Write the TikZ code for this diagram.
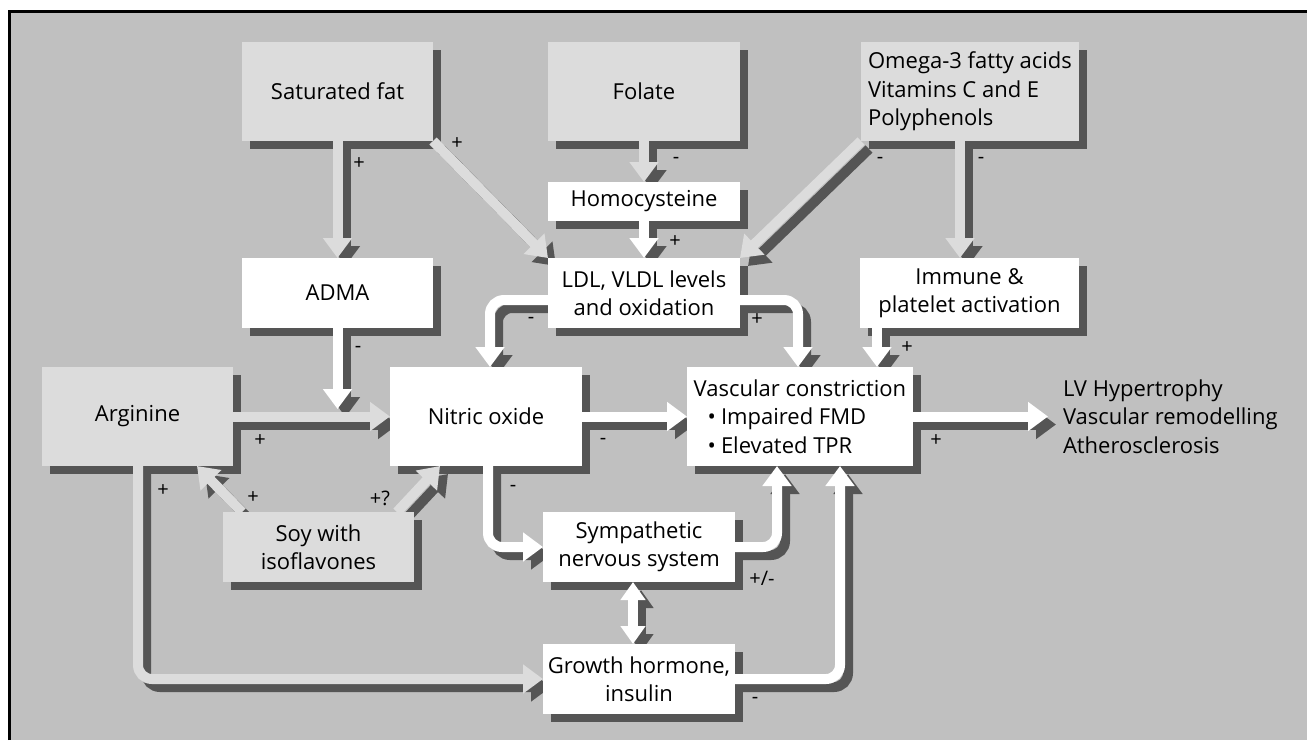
\documentclass[tikz,border=0pt]{standalone}
\usepackage{fontspec}
\setmainfont{Open Sans}
\usetikzlibrary{arrows.meta,calc}
\pgfdeclarelayer{bglayer}
\pgfdeclarelayer{shadowlayer}
\pgfdeclarelayer{arrowlayer}
\pgfsetlayers{bglayer,shadowlayer,arrowlayer,main}
\definecolor{bgc}{gray}{0.753}
\definecolor{lightc}{gray}{0.863}
\definecolor{shadc}{gray}{0.333}
\tikzset{
  box/.style={draw=none, inner sep=0pt, outer sep=0pt, align=center, font=\fontsize{22}{28.5}\selectfont},
  lbox/.style={box, fill=lightc},
  wbox/.style={box, fill=white},
  lbl/.style={font=\fontsize{20}{20}\selectfont, inner sep=0pt},
  barr/.style={line width=10pt, -{Triangle[width=28pt,length=20pt]}, rounded corners=14pt},
  dbl/.style={{Triangle[width=24pt,length=18pt]}-{Triangle[width=24pt,length=18pt]}},
}
\newcommand\blockarr[3][]{%
  \begin{pgfonlayer}{shadowlayer}
    \draw[barr,#1,draw=shadc,transform canvas={shift={(8pt,-8pt)}}] #3;
  \end{pgfonlayer}
  \begin{pgfonlayer}{arrowlayer}
    \draw[barr,#1,draw=#2] #3;
  \end{pgfonlayer}}
\begin{document}
\begin{tikzpicture}[x=1pt,y=-1pt]
\useasboundingbox (0,0) rectangle (1307,740);
\begin{pgfonlayer}{bglayer}
  \fill[white] (0,0) rectangle (1307,740);
  \fill[bgc] (9.5,11) rectangle (1307,740);
  \draw[line width=3pt] (9.5,740) -- (9.5,11) -- (1307,11);
\end{pgfonlayer}
% nodes
\node[lbox, minimum width=191pt, minimum height=99pt] (sat) at (337.5,91.5) {Saturated fat};
\node[lbox, minimum width=192pt, minimum height=99pt] (fol) at (644,91.5) {Folate};
\node[lbox, minimum width=218pt, minimum height=99pt, align=left] (omg) at (970,91.5) {Omega-3 fatty acids\\Vitamins C and E\\Polyphenols};
\node[wbox, minimum width=192pt, minimum height=39pt] (hcy) at (644,201.5) {Homocysteine};
\node[wbox, minimum width=191pt, minimum height=70pt] (adma) at (337.5,293) {ADMA};
\node[wbox, minimum width=192pt, minimum height=70pt] (ldl) at (644,293) {LDL, VLDL levels\\and oxidation};
\node[wbox, minimum width=219pt, minimum height=70pt] (imm) at (969.5,293) {Immune \&\\platelet activation};
\node[lbox, minimum width=191pt, minimum height=99pt] (arg) at (137.5,416.5) {Arginine};
\node[wbox, minimum width=192pt, minimum height=99pt] (no) at (486,416.5) {Nitric oxide};
\node[wbox, minimum width=226pt, minimum height=99pt, align=left] (vas) at (800,416.5) {Vascular constriction\\\hspace*{14pt}\textbullet\hspace{5pt}Impaired FMD\\\hspace*{14pt}\textbullet\hspace{5pt}Elevated TPR};
\node[lbox, minimum width=191pt, minimum height=70pt] (soy) at (318.5,547) {Soy with\\isoflavones};
\node[wbox, minimum width=192pt, minimum height=70pt] (sns) at (639,547) {Sympathetic\\nervous system};
\node[wbox, minimum width=192pt, minimum height=70pt] (gh) at (639,679) {Growth hormone,\\insulin};
\node[box, anchor=west, align=left] (lv) at (1063,416.5) {LV Hypertrophy\\Vascular remodelling\\Atherosclerosis};
% box shadows
\begin{pgfonlayer}{shadowlayer}
\foreach \n in {sat,fol,omg,hcy,adma,ldl,imm,arg,no,vas,soy,sns,gh}
  \fill[shadc] ([shift={(8pt,-8pt)}]\n.north west) rectangle ([shift={(8pt,-8pt)}]\n.south east);
\end{pgfonlayer}
% arrows
\blockarr{lightc}{(sat.south) -- (adma.north)}
\blockarr{lightc}{(sat.south east) -- (ldl.north west)}
\blockarr{lightc}{(fol.south) -- (hcy.north)}
\blockarr{white}{(hcy.south) -- (ldl.north)}
\blockarr{lightc}{(omg.south west) -- (ldl.north east)}
\blockarr{lightc}{(omg.south -| 960,0) -- (imm.north -| 960,0)}
\blockarr{white}{(adma.south) -- (adma.south |- 0,409)}
\blockarr{lightc}{(arg.east) -- (no.west)}
\blockarr{white}{(ldl.west |- 0,300) -| (no.north -| 490,0)}
\blockarr{white}{(ldl.east |- 0,300) -| (vas.north -| 798,0)}
\blockarr{white}{(imm.south -| 877,0) -- (vas.north -| 877,0)}
\blockarr{white}{(no.east) -- (vas.west)}
\blockarr{white}{(vas.east) -- ([xshift=-15pt]lv.west)}
\blockarr{white}{(no.south -| 488,0) |- (sns.west)}
\blockarr{white}{(sns.east) -| (vas.south -| 777,0)}
\blockarr{white}{(gh.east) -| (vas.south -| 840,0)}
\blockarr[dbl]{white}{([xshift=-6pt]sns.south) -- ([xshift=-6pt]gh.north)}
\blockarr{lightc}{(arg.south -| 138,0) |- (gh.west)}
\blockarr{lightc}{([xshift=19pt]soy.north west) -- ([xshift=59.5pt]arg.south)}
\blockarr{lightc}{([xshift=-17pt]soy.north east) -- ([xshift=-46pt]no.south)}
% labels
\node[lbl] (l1) at (359,164) {+};
\node[lbl] (l2) at (457,144) {+};
\node[lbl] (l3) at (676,160) {-};
\node[lbl] (l4) at (675,242) {+};
\node[lbl] (l5) at (880,160) {-};
\node[lbl] (l6) at (981,160) {-};
\node[lbl] (l7) at (358,349) {-};
\node[lbl] (l8) at (260,441) {+};
\node[lbl] (l9) at (531,320) {-};
\node[lbl] (l10) at (757,320) {+};
\node[lbl] (l11) at (907,348) {+};
\node[lbl] (l12) at (603,441) {-};
\node[lbl] (l13) at (936,441) {+};
\node[lbl] (l14) at (513,488) {-};
\node[lbl] (l15) at (762,578) {+/-};
\node[lbl] (l16) at (755,700) {-};
\node[lbl] (l17) at (163,491) {+};
\node[lbl] (l18) at (253,498) {+};
\node[lbl] (l19) at (380,498) {+?};
\end{tikzpicture}
\end{document}
